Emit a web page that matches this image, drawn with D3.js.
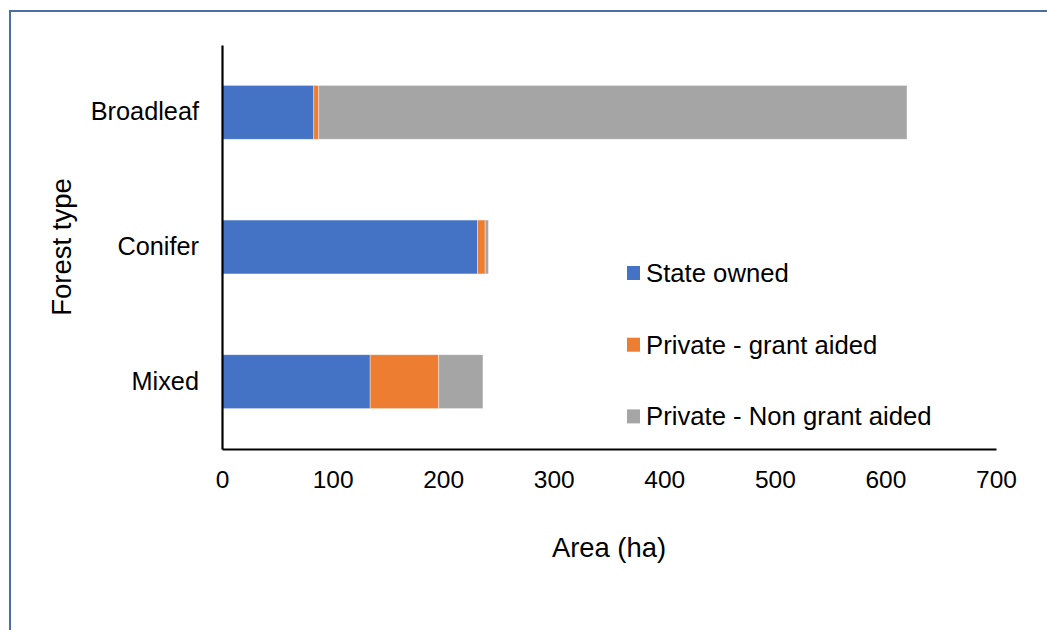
<!DOCTYPE html>
<html>
<head>
<meta charset="utf-8">
<script src="https://cdn.jsdelivr.net/npm/d3@7/dist/d3.min.js"></script>
<style>
  html, body { margin: 0; padding: 0; background: #fff; }
  svg { display: block; font-family: "Liberation Sans", Arial, sans-serif; }
</style>
</head>
<body>
<svg id="chart" width="1047" height="630"></svg>
<script>
// Forest area by type and ownership (ha)
const categories = ["Broadleaf", "Conifer", "Mixed"];
const seriesNames = ["State owned", "Private - grant aided", "Private - Non grant aided"];
const stateOwned = [83, 231, 134];
const privateGrantAided = [4.5, 7, 62];
const privateNonGrantAided = [532, 3, 40];
const xTicks = [0, 100, 200, 300, 400, 500, 600, 700];
const colors = ["#4472C4", "#ED7D31", "#A5A5A5"];

const rows = categories.map((c, i) => ({
  category: c,
  "State owned": stateOwned[i],
  "Private - grant aided": privateGrantAided[i],
  "Private - Non grant aided": privateNonGrantAided[i]
}));

const svg = d3.select("#chart");
const FONT = "Liberation Sans, Arial, sans-serif";

// outer frame (only top and left edges fall inside the view)
svg.append("rect")
  .attr("x", 10).attr("y", 11)
  .attr("width", 1060).attr("height", 640)
  .attr("fill", "none")
  .attr("stroke", "#4A6FA0")
  .attr("stroke-width", 2);

const plot = { left: 222, right: 996, top: 45, bottom: 449 };

const x = d3.scaleLinear().domain([0, 700]).range([plot.left, plot.right]);
const y = d3.scaleBand().domain(categories)
  .range([plot.top, plot.bottom])
  .paddingInner(0.6).paddingOuter(0.3);

const layers = d3.stack().keys(seriesNames)(rows);
const color = d3.scaleOrdinal().domain(seriesNames).range(colors);

svg.append("g").selectAll("g")
  .data(layers)
  .join("g")
  .attr("fill", d => color(d.key))
  .selectAll("rect")
  .data(d => d)
  .join("rect")
  .attr("x", d => x(d[0]))
  .attr("y", d => y(d.data.category))
  .attr("width", d => x(d[1]) - x(d[0]))
  .attr("height", y.bandwidth())
  .attr("stroke", "#ffffff")
  .attr("stroke-opacity", 0.5)
  .attr("stroke-width", 0.75);

// x axis
const xAxis = svg.append("g")
  .attr("transform", `translate(0,${plot.bottom})`)
  .call(d3.axisBottom(x).tickValues(xTicks).tickSize(0).tickPadding(22).tickFormat(d3.format("d")));
xAxis.select(".domain").attr("stroke", "#000").attr("stroke-width", 2.2);
xAxis.selectAll("text")
  .attr("font-size", 24.5)
  .attr("fill", "#000")
  .attr("font-family", FONT);

// y axis
const yAxis = svg.append("g")
  .attr("transform", `translate(${plot.left},0)`)
  .call(d3.axisLeft(y).tickSize(0).tickPadding(23));
yAxis.select(".domain").attr("stroke", "#000").attr("stroke-width", 2.2);
yAxis.selectAll("text")
  .attr("font-size", 25.3)
  .attr("fill", "#000")
  .attr("font-family", FONT);

// axis titles
svg.append("text")
  .attr("x", (plot.left + plot.right) / 2)
  .attr("y", 557)
  .attr("text-anchor", "middle")
  .attr("font-size", 27.4)
  .attr("fill", "#000")
  .text("Area (ha)");

svg.append("text")
  .attr("transform", `translate(71,${(plot.top + plot.bottom) / 2}) rotate(-90)`)
  .attr("text-anchor", "middle")
  .attr("font-size", 27.5)
  .attr("fill", "#000")
  .text("Forest type");

// legend
const legend = svg.append("g").selectAll("g")
  .data(seriesNames)
  .join("g")
  .attr("transform", (d, i) => `translate(627,${273 + i * 71.7})`);

legend.append("rect")
  .attr("x", 0).attr("y", -7)
  .attr("width", 13).attr("height", 14)
  .attr("fill", d => color(d));

legend.append("text")
  .attr("x", 19)
  .attr("y", 9)
  .attr("font-size", 25.7)
  .attr("fill", "#000")
  .text(d => d);
</script>
</body>
</html>
